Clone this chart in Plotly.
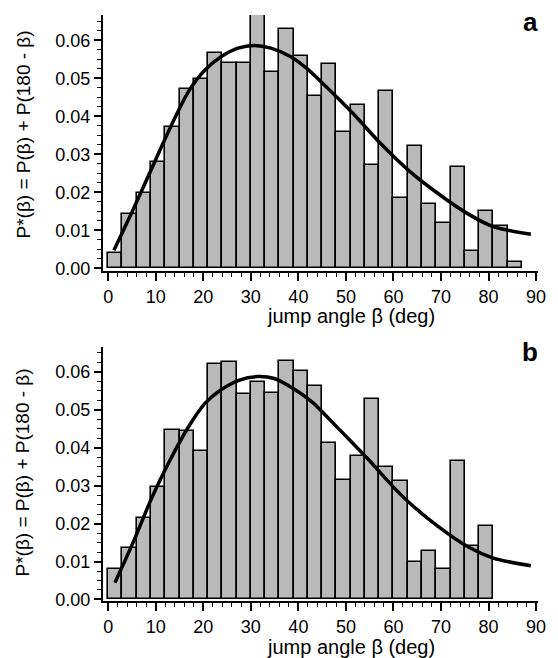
import plotly.graph_objects as go

# ---------------- data ----------------
bin_width = 3  # degrees
# panel a: histogram heights for bins 0-3, 3-6, ..., 84-87
a_values = [0.0042, 0.0143, 0.0198, 0.0279, 0.0373, 0.0473, 0.0498, 0.0567,
            0.0540, 0.0542, 0.0668, 0.0518, 0.0630, 0.0560, 0.0455, 0.0539,
            0.0359, 0.0431, 0.0272, 0.0467, 0.0185, 0.0322, 0.0171, 0.0121,
            0.0266, 0.0047, 0.0151, 0.0112, 0.0018]
# panel b: histogram heights for bins 0-3, ..., 78-81
b_values = [0.0079, 0.0135, 0.0214, 0.0296, 0.0447, 0.0443, 0.0392, 0.0620,
            0.0626, 0.0540, 0.0574, 0.0545, 0.0628, 0.0602, 0.0562, 0.0412,
            0.0315, 0.0377, 0.0527, 0.0350, 0.0313, 0.0098, 0.0128, 0.0081,
            0.0366, 0.0140, 0.0194]

# fitted curves
fit_a_deg = [1.2, 5.2, 9.0, 12.5, 16.9, 20.4, 23.8, 27.3, 30.7, 34.2, 38.3,
             41.7, 45.2, 51.4, 57.2, 63.1, 69.3, 75.5, 81.0, 88.9]
fit_a_val = [0.0048, 0.0154, 0.0259, 0.0356, 0.0466, 0.0523, 0.0558, 0.0580,
             0.0587, 0.0580, 0.0558, 0.0527, 0.0486, 0.0409, 0.0330, 0.0259,
             0.0198, 0.0145, 0.0110, 0.0090]
fit_b_deg = [1.4, 5.2, 9.0, 12.5, 16.9, 20.4, 23.8, 27.6, 31.4, 34.9, 39.0,
             43.1, 45.5, 51.4, 54.5, 60.3, 63.4, 69.3, 75.5, 81.0, 88.9]
fit_b_val = [0.0044, 0.0149, 0.0263, 0.0355, 0.0455, 0.0517, 0.0553, 0.0578,
             0.0587, 0.0582, 0.0555, 0.0518, 0.0488, 0.0412, 0.0372, 0.0292,
             0.0254, 0.0193, 0.0140, 0.0109, 0.0089]

x_ticks = [0, 10, 20, 30, 40, 50, 60, 70, 80, 90]
y_title = "P*(β) = P(β) + P(180 - β)"
x_title = "jump angle β (deg)"
panel_labels = ["a", "b"]

# ---------------- figure ----------------
FONT = "Liberation Sans, Arial, Helvetica, sans-serif"
BAR_FILL = "#b9b9b9"

def centers(vals):
    return [bin_width * i + bin_width / 2 for i in range(len(vals))]

fig = go.Figure()
for vals, fx, fy, xa, ya in [(a_values, fit_a_deg, fit_a_val, "x", "y"),
                              (b_values, fit_b_deg, fit_b_val, "x2", "y2")]:
    fig.add_trace(go.Bar(x=centers(vals), y=vals, width=bin_width,
                         marker=dict(color=BAR_FILL,
                                     line=dict(color="black", width=1.6)),
                         xaxis=xa, yaxis=ya, showlegend=False))
    fig.add_trace(go.Scatter(x=fx, y=fy, mode="lines",
                             line=dict(color="black", width=3.5, shape="spline", smoothing=0.8),
                             xaxis=xa, yaxis=ya, showlegend=False))

L, R, T, B = 103, 12, 15, 57
W, H = 558, 658
ph = H - T - B
pw = W - L - R

def py(pix):
    return (H - B - pix) / ph

def px(pix):
    return (pix - L) / pw

xcommon = dict(range=[-1.1, 90.4], tickvals=x_ticks, showline=True, linewidth=2,
               linecolor="black", ticks="outside", ticklen=8, tickwidth=1.5,
               tickcolor="black", showgrid=False, zeroline=False,
               tickfont=dict(family=FONT, size=18, color="black"),
               minor=dict(dtick=2, ticks="outside", ticklen=4, tickwidth=1.2,
                          tickcolor="black", showgrid=False))
ycommon = dict(dtick=0.01, tick0=0, tickformat=".2f", showline=True, linewidth=2,
               linecolor="black", ticks="outside", ticklen=7, tickwidth=1.5,
               tickcolor="black", showgrid=False, zeroline=False,
               tickfont=dict(family=FONT, size=18, color="black"),
               minor=dict(dtick=0.0025, ticks="outside", ticklen=4, tickwidth=1.2,
                          tickcolor="black", showgrid=False))

fig.update_layout(
    width=W, height=H, margin=dict(l=L, r=R, t=T, b=B),
    paper_bgcolor="white", plot_bgcolor="white", bargap=0,
    xaxis=dict(**xcommon, anchor="y", domain=[0, 1]),
    yaxis=dict(**ycommon, anchor="x", domain=[py(271), 1], range=[-0.00066, 0.0667]),
    xaxis2=dict(**xcommon, anchor="y2", domain=[0, 1]),
    yaxis2=dict(**ycommon, anchor="x2", domain=[0, py(347)], range=[-0.0004, 0.0665]),
)

annots = []
for cy, ty, lab, ly in [(134, 316, panel_labels[0], 22), (472, 647, panel_labels[1], 352)]:
    annots.append(dict(text=y_title, x=px(22), y=py(cy), xref="paper", yref="paper",
                       textangle=-90, showarrow=False, xanchor="center", yanchor="middle",
                       font=dict(family=FONT, size=19, color="black")))
    annots.append(dict(text=x_title, x=px(268), y=py(ty), xref="paper", yref="paper",
                       showarrow=False, xanchor="left", yanchor="middle",
                       font=dict(family=FONT, size=20, color="black")))
    annots.append(dict(text="<b>%s</b>" % lab, x=px(538), y=py(ly), xref="paper", yref="paper",
                       showarrow=False, xanchor="center", yanchor="middle",
                       font=dict(family=FONT, size=26, color="black")))
fig.update_layout(annotations=annots)

fig.write_html("out.html")
